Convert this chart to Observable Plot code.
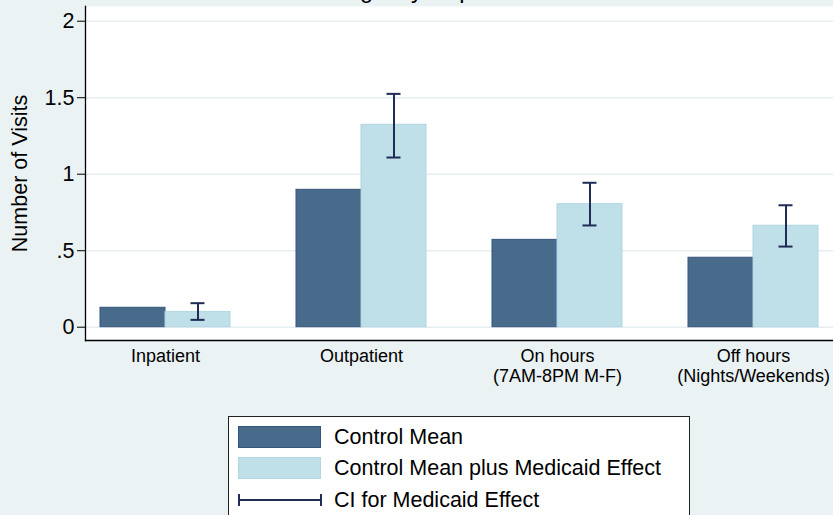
<!DOCTYPE html>
<html>
<head>
<meta charset="utf-8">
<script src="https://cdn.jsdelivr.net/npm/d3@7"></script>
<script src="https://cdn.jsdelivr.net/npm/@observablehq/plot@0.6"></script>
<style>
  html, body { margin: 0; padding: 0; background: #eaf2f3; }
  #wrap { position: relative; width: 833px; height: 515px; overflow: hidden; background: #eaf2f3;
          font-family: "Liberation Sans", Arial, Helvetica, sans-serif; color: #000; }
  #title { position: absolute; left: 0; top: -30px; overflow: visible; }
  #chart { position: absolute; left: 0; top: 0; }
  #legend { position: absolute; left: 228px; top: 416px; width: 462px; height: 120px;
            background: #fff; border: 1.5px solid #222; box-sizing: border-box; }
  .item { position: absolute; left: 105px; font-size: 21.5px; line-height: 22px; white-space: nowrap; }
  .sw { position: absolute; left: 9px; width: 83px; height: 22px; box-sizing: border-box; }
</style>
</head>
<body>
<div id="wrap">
  <svg id="title" width="918" height="30">
    <text id="titleText" x="459" y="27.5" text-anchor="middle" font-size="23.5" font-family="Liberation Sans, Arial, sans-serif" fill="#000"></text>
  </svg>
  <div id="chart"></div>
  <div id="legend"></div>
</div>
<script>
// ---- data ----
const chartTitle = "Emergency Department Visits";
const categories = ["Inpatient", "Outpatient", "On hours\n(7AM-8PM M-F)", "Off hours\n(Nights/Weekends)"];
const controlMean = [0.127, 0.898, 0.571, 0.454];
const medicaidMean = [0.100, 1.323, 0.804, 0.663];
const ciLow = [0.048, 1.109, 0.665, 0.527];
const ciHigh = [0.157, 1.525, 0.944, 0.797];
const yTicks = [0, 0.5, 1, 1.5, 2];
const yTickLabels = ["0", ".5", "1", "1.5", "2"];
const yLabel = "Number of Visits";
const seriesNames = ["Control Mean", "Control Mean plus Medicaid Effect", "CI for Medicaid Effect"];

const darkFill = "#486a8b", darkStroke = "#35567a";
const lightFill = "#bfdfe9", lightStroke = "#b1d5e1";
const ciColor = "#1f2c55";
const gridColor = "#e6eef1";

document.getElementById("titleText").textContent = chartTitle;

const rows = categories.map((c, i) => ({
  cat: c, control: controlMean[i], medicaid: medicaidMean[i], lo: ciLow[i], hi: ciHigh[i]
}));

const plot = Plot.plot({
  width: 833,
  height: 400,
  marginLeft: 85,
  marginRight: 0,
  marginTop: 6,
  marginBottom: 60,
  style: { background: "transparent", fontFamily: "Liberation Sans, Arial, sans-serif", color: "#000", overflow: "visible" },
  x: { type: "band", domain: categories, paddingInner: 0.3367, paddingOuter: 0.0765, round: false, label: null },
  y: { domain: [-0.0869, 2.0961], label: null },
  marks: [
    Plot.frame({ fill: "white", stroke: "none" }),
    Plot.gridY(yTicks, { stroke: gridColor, strokeOpacity: 1, strokeWidth: 1.6 }),
    Plot.barY(rows, { x: "cat", y1: 0, y2: "control", fill: darkFill, stroke: darkStroke, strokeWidth: 1, insetRight: 65 }),
    Plot.barY(rows, { x: "cat", y1: 0, y2: "medicaid", fill: lightFill, stroke: lightStroke, strokeWidth: 1, insetLeft: 65 }),
    Plot.ruleX(rows, { x: "cat", y1: "lo", y2: "hi", dx: 32.5, stroke: ciColor, strokeWidth: 2 }),
    Plot.tickY(rows, { x: "cat", y: "lo", dx: 32.5, insetLeft: 58, insetRight: 58, stroke: ciColor, strokeWidth: 2 }),
    Plot.tickY(rows, { x: "cat", y: "hi", dx: 32.5, insetLeft: 58, insetRight: 58, stroke: ciColor, strokeWidth: 2 }),
    Plot.frame({ anchor: "left", stroke: "#000", strokeWidth: 1.3 }),
    Plot.frame({ anchor: "bottom", stroke: "#000", strokeWidth: 1.3 }),
    Plot.axisY(yTicks, {
      tickSize: 8, tickPadding: 3, fontSize: 21.5, stroke: "#000",
      tickFormat: (d) => yTickLabels[yTicks.indexOf(d)],
      label: yLabel, labelAnchor: "center", labelArrow: "none", labelOffset: 74
    }),
    Plot.axisX({ tickSize: 0, tickPadding: 8, fontSize: 18, lineHeight: 1.08, label: null })
  ]
});
document.getElementById("chart").appendChild(plot);

// ---- legend ----
const legend = document.getElementById("legend");
const tops = [9, 40, 72];
seriesNames.forEach((name, i) => {
  if (i < 2) {
    const sw = document.createElement("div");
    sw.className = "sw";
    sw.style.top = tops[i] + "px";
    sw.style.background = i === 0 ? darkFill : lightFill;
    sw.style.border = "1px solid " + (i === 0 ? darkStroke : lightStroke);
    legend.appendChild(sw);
  } else {
    const svgNS = "http://www.w3.org/2000/svg";
    const s = document.createElementNS(svgNS, "svg");
    s.setAttribute("width", 90); s.setAttribute("height", 22);
    s.style.position = "absolute"; s.style.left = "9px"; s.style.top = tops[i] + "px";
    const mk = (x1, y1, x2, y2) => {
      const l = document.createElementNS(svgNS, "line");
      l.setAttribute("x1", x1); l.setAttribute("y1", y1); l.setAttribute("x2", x2); l.setAttribute("y2", y2);
      l.setAttribute("stroke", ciColor); l.setAttribute("stroke-width", 2);
      s.appendChild(l);
    };
    mk(1, 11, 83, 11); mk(1, 5, 1, 17); mk(83, 5, 83, 17);
    legend.appendChild(s);
  }
  const t = document.createElement("div");
  t.className = "item";
  t.style.top = tops[i] + "px";
  t.textContent = name;
  legend.appendChild(t);
});
</script>
</body>
</html>
